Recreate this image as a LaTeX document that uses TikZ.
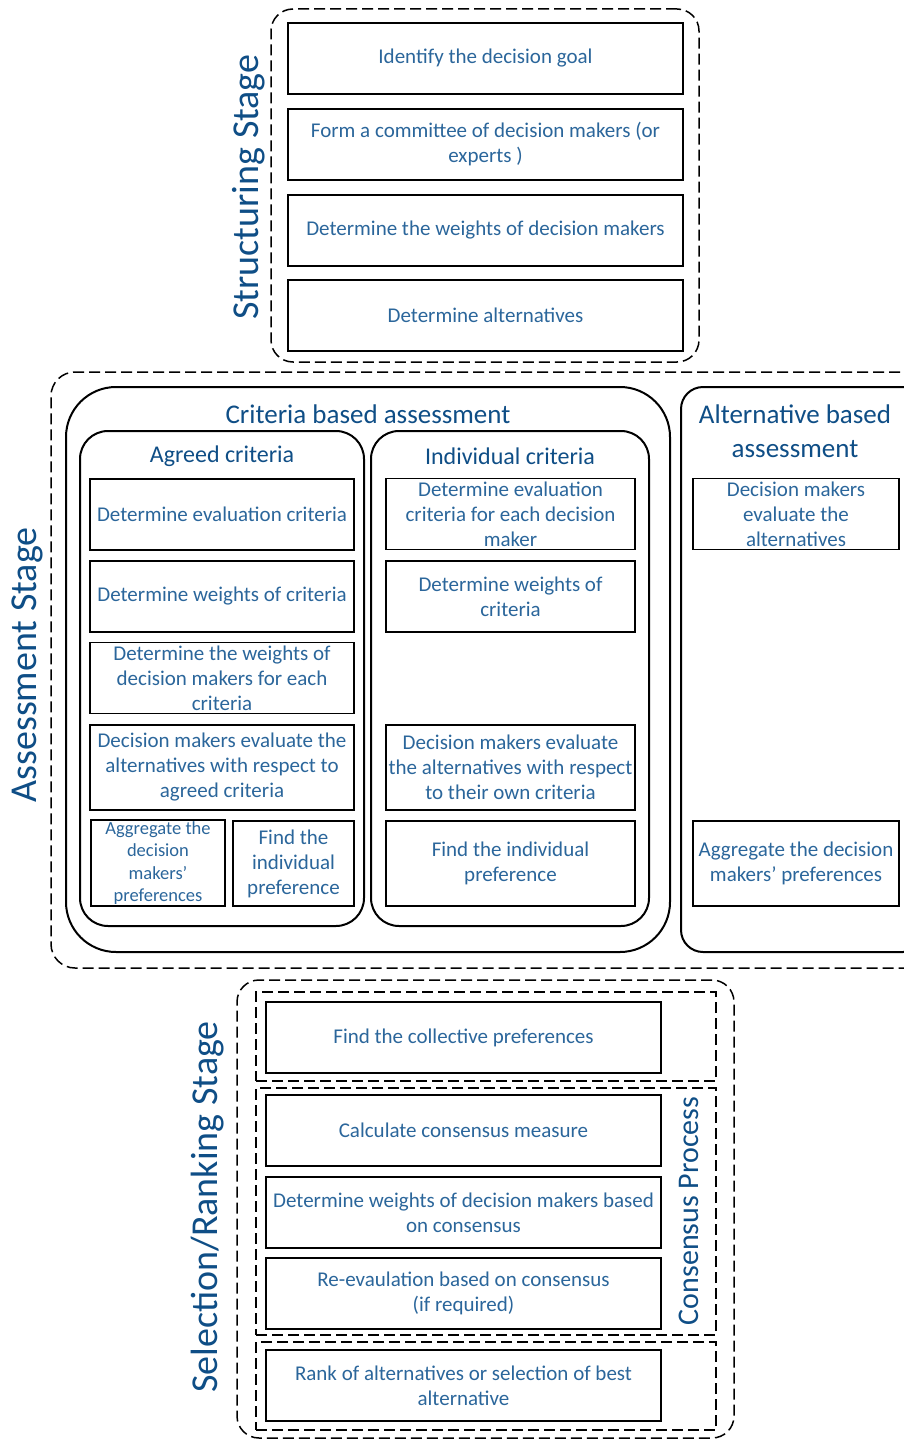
\documentclass[tikz,border=0pt]{standalone}
\usepackage{fontspec}
\setmainfont{Carlito}
\usetikzlibrary{fit}
\definecolor{txt}{HTML}{2B669B}
\definecolor{hdr}{HTML}{0F4E86}
\begin{document}
\begin{tikzpicture}[x=1pt,y=-1pt,
  box/.style={draw=black, line width=1.8pt, inner sep=1pt, align=center, text=txt,
    font=\fontsize{21}{25}\selectfont},
  smallbox/.style={box, font=\fontsize{18.5}{22.5}\selectfont},
  dbox/.style={draw=black, line width=1.5pt, dash pattern=on 11pt off 5pt, inner sep=0pt},
  rbox/.style={draw=black, line width=2pt, inner sep=0pt},
  hdrA/.style={text=hdr, font=\fontsize{27}{34}\selectfont, align=center, inner sep=0pt},
  hdrB/.style={text=hdr, font=\fontsize{24}{30}\selectfont, align=center, inner sep=0pt},
  stagelbl/.style={text=hdr, font=\fontsize{38}{42}\selectfont, inner sep=0pt, rotate=90},
  conslbl/.style={text=hdr, font=\fontsize{30}{34}\selectfont, inner sep=0pt, rotate=90}
]
\clip (0,0) rectangle (904,1439);
\fill[white] (0,0) rectangle (904,1439);

% ---------- Structuring stage ----------
\node[dbox, rounded corners=22pt, fit={(271,9) (699,362)}] (struct) {};
\node[box, minimum width=395pt, minimum height=71pt] (b1) at (485.5,58.5) {Identify the decision goal};
\node[box, minimum width=395pt, minimum height=71pt] (b2) at (485.5,144.5) {Form a committee of decision makers (or\\experts )};
\node[box, minimum width=395pt, minimum height=71pt] (b3) at (485.5,230.5) {Determine the weights of decision makers};
\node[box, minimum width=395pt, minimum height=71pt] (b4) at (485.5,315.5) {Determine alternatives};
\node[stagelbl] (lstruct) at (249,187) {Structuring Stage};

% ---------- Assessment stage ----------
\node[dbox, rounded corners=24pt, fit={(51,372) (940,968)}] (assess) {};
\node[rbox, rounded corners=50pt, fit={(66,387) (670,952)}] (crit) {};
\node[rbox, rounded corners=28pt, fit={(80,431) (364,926)}] (agreed) {};
\node[rbox, rounded corners=28pt, fit={(371,431) (649,926)}] (indiv) {};
\node[rbox, rounded corners=22pt, fit={(681,387) (925,952)}] (alt) {};
\node[stagelbl] (lassess) at (27,665) {Assessment Stage};

\node[hdrA] (tcrit) at (368,414) {Criteria based assessment};
\node[hdrB] (tagr) at (222,456) {Agreed criteria};
\node[hdrB] (tind) at (510,456) {Individual criteria};
\node[hdrA] (talt) at (795,431) {Alternative based\\assessment};

% agreed criteria boxes
\node[box, minimum width=264pt, minimum height=71pt] (a1) at (222,514.5) {Determine evaluation criteria};
\node[box, minimum width=264pt, minimum height=71pt] (a2) at (222,596.5) {Determine weights of criteria};
\node[box, minimum width=264pt, minimum height=71pt] (a3) at (222,678) {Determine the weights of\\decision makers for each\\criteria};
\node[box, minimum width=264pt, minimum height=85pt] (a4) at (222,767.5) {Decision makers evaluate the\\alternatives with respect to\\agreed criteria};
\node[smallbox, minimum width=134pt, minimum height=85pt] (a5) at (158,863) {Aggregate the\\decision\\makers’\\preferences};
\node[box, minimum width=121pt, minimum height=85pt] (a6) at (293.5,863.5) {Find the\\individual\\preference};

% individual criteria boxes
\node[box, minimum width=249pt, minimum height=71pt] (i1) at (510.5,514) {Determine evaluation\\criteria for each decision\\maker};
\node[box, minimum width=249pt, minimum height=71pt] (i2) at (510.5,596.5) {Determine weights of\\criteria};
\node[box, minimum width=249pt, minimum height=85pt] (i3) at (510.5,767.5) {Decision makers evaluate\\the alternatives with respect\\to their own criteria};
\node[box, minimum width=249pt, minimum height=85pt] (i4) at (510.5,863.5) {Find the individual\\preference};

% alternative based boxes
\node[box, minimum width=206pt, minimum height=71pt] (al1) at (796,514) {Decision makers\\evaluate the\\alternatives};
\node[box, minimum width=206pt, minimum height=85pt] (al2) at (796,863.5) {Aggregate the decision\\makers’ preferences};

% ---------- Selection / Ranking stage ----------
\node[dbox, rounded corners=22pt, fit={(237,980) (734,1438)}] (sel) {};
\node[dbox, fit={(256,992) (716,1081)}] (in1) {};
\node[dbox, fit={(256,1088) (716,1335)}] (in2) {};
\node[dbox, fit={(256,1342) (716,1430)}] (in3) {};
\node[stagelbl] (lsel) at (208,1207) {Selection/Ranking Stage};
\node[conslbl] (lcons) at (689,1211) {Consensus Process};

\node[box, minimum width=395pt, minimum height=71pt] (s1) at (463.5,1037.5) {Find the collective preferences};
\node[box, minimum width=395pt, minimum height=71pt] (s2) at (463.5,1130.5) {Calculate consensus measure};
\node[box, minimum width=395pt, minimum height=71pt] (s3) at (463.5,1212.5) {Determine weights of decision makers based\\on consensus};
\node[box, minimum width=395pt, minimum height=71pt] (s4) at (463.5,1293.5) {Re-evaulation based on consensus\\(if required)};
\node[box, minimum width=395pt, minimum height=71pt] (s5) at (463.5,1385.5) {Rank of alternatives or selection of best\\alternative};
\end{tikzpicture}
\end{document}
